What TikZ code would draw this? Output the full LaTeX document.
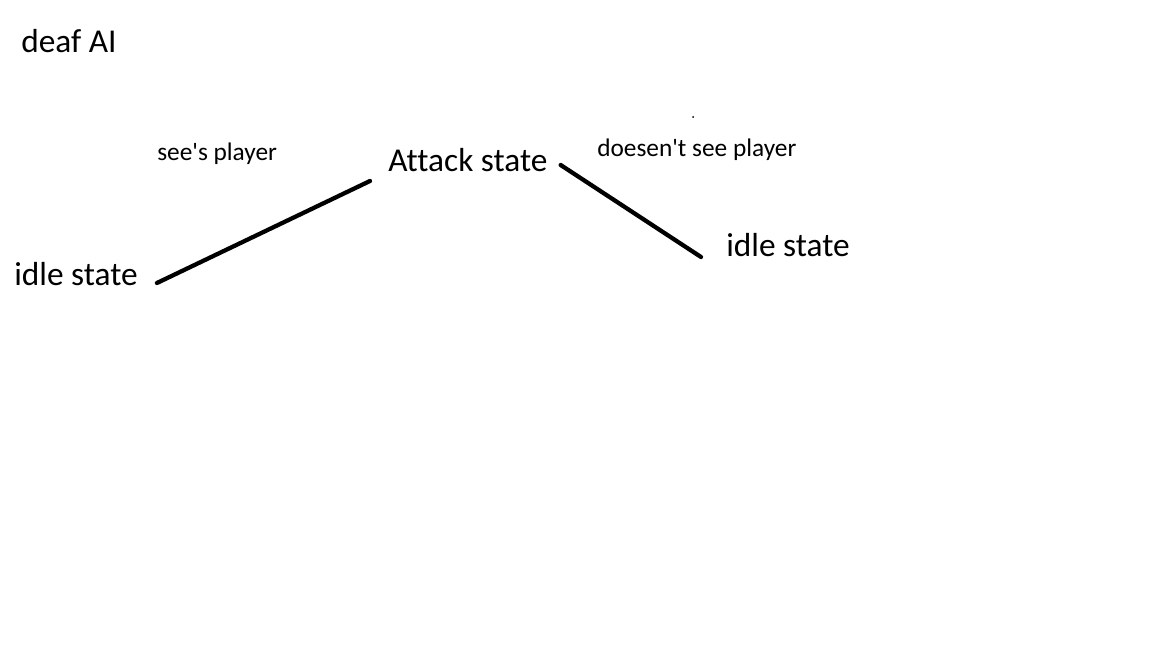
\documentclass[tikz,border=0pt]{standalone}
\usepackage{fontspec}
\setmainfont{Carlito}[Ligatures={NoCommon}]
\usetikzlibrary{calc}

\begin{document}
\begin{tikzpicture}[x=0.75pt,y=-0.75pt,
    big/.style={inner sep=0pt,anchor=base west,font=\fontsize{25}{28}\selectfont},
    small/.style={inner sep=0pt,anchor=base west,font=\fontsize{19}{22}\selectfont},
    edge/.style={line width=3.2pt,line cap=round}]
\useasboundingbox (0,0) rectangle (1152,648);

\node[big] (title) at (21,53){deaf AI};
\node[small] (sees) at (157,161){see\textquotesingle s player};
\node[big] (attack) at (388,172){Attack state};
\node[small] (nosee) at (597,157){doesen\textquotesingle t see player};
\node[big] (idleL) at (14,286){idle state};
\node[big] (idleR) at (726,257){idle state};

\draw[edge] ($(idleL.base east)+(19,-3)$)--($(attack.base west)+(-18,9)$);
\draw[edge] ($(attack.base east)+(13,-7)$)--($(idleR.base west)+(-25,0)$);

\fill (693,117) circle (1);
\end{tikzpicture}
\end{document}
